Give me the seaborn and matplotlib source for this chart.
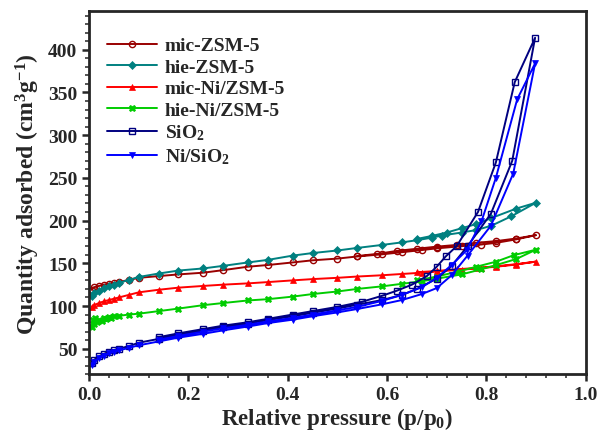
import numpy as np
import pandas as pd
import matplotlib
matplotlib.use("Agg")
import matplotlib.pyplot as plt
from matplotlib.ticker import MultipleLocator
import seaborn as sns

# N2 adsorption / desorption isotherms (p/p0, cm3/g)
mic_zsm5_p_ads = [0.005, 0.01, 0.02, 0.03, 0.04, 0.05, 0.06, 0.08, 0.10, 0.14, 0.18, 0.23, 0.27, 0.32, 0.36,
                  0.41, 0.45, 0.50, 0.54, 0.59, 0.63, 0.67, 0.70, 0.75, 0.79, 0.82, 0.86, 0.90]
mic_zsm5_q_ads = [119, 122, 123.5, 125, 126, 127, 128, 130.5, 133, 135, 137, 139, 142, 146, 148,
                  151, 153.5, 155.5, 158, 160.5, 163, 165.5, 167.5, 170, 172, 174, 178, 183]
mic_zsm5_p_des = [0.86, 0.82, 0.78, 0.74, 0.70, 0.66, 0.62, 0.58, 0.54]
mic_zsm5_q_des = [179, 176, 174, 171.5, 169.5, 167, 164.5, 161, 158.5]

hie_zsm5_p_ads = [0.005, 0.01, 0.02, 0.03, 0.04, 0.05, 0.06, 0.08, 0.10, 0.14, 0.18, 0.23, 0.27, 0.32, 0.36,
                  0.41, 0.45, 0.50, 0.54, 0.59, 0.63, 0.66, 0.69, 0.71, 0.75, 0.78, 0.81, 0.85, 0.90]
hie_zsm5_q_ads = [112, 115, 118, 120.5, 123, 125, 127, 130.5, 134, 138, 141.5, 144, 147, 151, 154,
                  159, 162, 165, 168, 171.5, 174.5, 177, 180, 182.5, 186, 189, 194, 205, 221]
hie_zsm5_p_des = [0.86, 0.81, 0.78, 0.75, 0.72, 0.69, 0.66]
hie_zsm5_q_des = [214, 203, 196, 191, 186, 182, 178.5]

mic_ni_p_ads = [0.005, 0.01, 0.02, 0.03, 0.04, 0.05, 0.06, 0.08, 0.10, 0.14, 0.18, 0.23, 0.27, 0.32, 0.36,
                0.41, 0.45, 0.50, 0.54, 0.59, 0.63, 0.67, 0.70, 0.75, 0.79, 0.82, 0.86, 0.90]
mic_ni_q_ads = [99, 101, 103.5, 105.5, 107, 108.5, 110, 113, 116, 119, 121.5, 123.5, 125, 126.5, 128,
                130, 131.5, 133, 134.5, 136, 137.5, 139, 140.5, 142.5, 144.5, 146, 148.5, 152]
mic_ni_p_des = [0.86, 0.82, 0.78, 0.74, 0.70, 0.66]
mic_ni_q_des = [149, 146.5, 144.5, 143, 141, 139.5]

hie_ni_p_ads = [0.005, 0.008, 0.01, 0.012, 0.015, 0.02, 0.025, 0.03, 0.035, 0.04, 0.045, 0.05, 0.06, 0.08,
                0.10, 0.14, 0.18, 0.23, 0.27, 0.32, 0.36, 0.41, 0.45, 0.50, 0.54, 0.59, 0.63, 0.67, 0.70,
                0.75, 0.79, 0.82, 0.86, 0.90]
hie_ni_q_ads = [76, 84, 79, 86, 81, 84, 82, 86, 85, 87, 86, 88, 88.5, 90,
                91, 94, 97, 101, 103.5, 106.5, 108, 111, 114, 117, 120, 123, 126, 129, 132,
                137, 143, 148, 155, 166]
hie_ni_p_des = [0.855, 0.82, 0.78, 0.74, 0.70, 0.66]
hie_ni_q_des = [159.5, 152, 146, 140, 134.5, 130]

sio2_p_ads = [0.005, 0.01, 0.02, 0.03, 0.04, 0.05, 0.06, 0.08, 0.10, 0.14, 0.18, 0.23, 0.27, 0.32, 0.36,
              0.41, 0.45, 0.50, 0.54, 0.59, 0.63, 0.66, 0.70, 0.73, 0.762, 0.809, 0.852, 0.898]
sio2_q_ads = [33, 37, 41, 44, 46.5, 48.5, 50, 53, 57, 61.5, 66, 71, 75, 79.5, 83.5,
              88, 92, 97, 101.5, 107, 113, 120, 132, 147, 170, 208, 270, 414]
sio2_p_des = [0.857, 0.819, 0.783, 0.74, 0.718, 0.70, 0.68, 0.65, 0.62, 0.59, 0.55, 0.50, 0.45,
              0.41, 0.36, 0.32, 0.27, 0.23, 0.18, 0.14]
sio2_q_des = [362, 268, 210, 170, 158, 146, 135, 125, 118, 112, 105, 99, 94,
              90, 85, 81, 77, 73, 68, 63.5]

ni_sio2_p_ads = [0.005, 0.01, 0.02, 0.03, 0.04, 0.05, 0.06, 0.08, 0.10, 0.14, 0.18, 0.23, 0.27, 0.32, 0.36,
                 0.41, 0.45, 0.50, 0.54, 0.59, 0.63, 0.67, 0.70, 0.73, 0.762, 0.809, 0.854, 0.898]
ni_sio2_q_ads = [31, 35, 39, 42, 44.5, 46.5, 48, 51, 54, 58.5, 63, 67.5, 71.5, 76, 80,
                 84, 88, 92.5, 96.5, 102, 107, 114, 121, 136, 159, 194, 255, 384]
ni_sio2_p_des = [0.862, 0.819, 0.79, 0.76, 0.73, 0.70, 0.67, 0.63, 0.59, 0.54, 0.50, 0.45,
                 0.41, 0.36, 0.32, 0.27, 0.23, 0.18, 0.14]
ni_sio2_q_des = [342, 250, 199, 165, 148, 133, 122, 113, 106, 99, 95, 90,
                 86, 82, 78, 74, 70, 65, 60.5]

series = [
    ("mic-ZSM-5", mic_zsm5_p_ads, mic_zsm5_q_ads, mic_zsm5_p_des, mic_zsm5_q_des, "#990000", "o", True),
    ("hie-ZSM-5", hie_zsm5_p_ads, hie_zsm5_q_ads, hie_zsm5_p_des, hie_zsm5_q_des, "#008080", "D", False),
    ("mic-Ni/ZSM-5", mic_ni_p_ads, mic_ni_q_ads, mic_ni_p_des, mic_ni_q_des, "#FF0000", "^", False),
    ("hie-Ni/ZSM-5", hie_ni_p_ads, hie_ni_q_ads, hie_ni_p_des, hie_ni_q_des, "#00CC00", "X", False),
    (r"SiO$_\mathbf{2}$", sio2_p_ads, sio2_q_ads, sio2_p_des, sio2_q_des, "#000080", "s", True),
    (r"Ni/SiO$_\mathbf{2}$", ni_sio2_p_ads, ni_sio2_q_ads, ni_sio2_p_des, ni_sio2_q_des, "#0000FF", "v", False),
]

sns.set_style("ticks")
plt.rcParams["font.family"] = ["Liberation Serif", "DejaVu Serif"]
plt.rcParams["font.weight"] = "bold"
plt.rcParams["mathtext.fontset"] = "custom"
plt.rcParams["mathtext.rm"] = "Liberation Serif:bold"
plt.rcParams["mathtext.bf"] = "Liberation Serif:bold"
plt.rcParams["mathtext.it"] = "Liberation Serif:italic:bold"

fig = plt.figure(figsize=(6.02, 4.39), dpi=100)
ax = fig.add_axes([0.148, 0.145, 0.825, 0.827])

for label, pa, qa, pd_, qd, color, marker, hollow in series:
    df = pd.DataFrame({"p": list(pa) + list(pd_), "q": list(qa) + list(qd)})
    sns.lineplot(data=df, x="p", y="q", sort=False, estimator=None, ax=ax,
                 color=color, marker=marker, markersize=4.5 if marker != "D" else 4,
                 markerfacecolor="none" if hollow else color,
                 markeredgecolor=color, markeredgewidth=1.0 if hollow else 0.5,
                 linewidth=1.4, label=label)

ax.set_xlim(0.0, 1.0)
ax.set_ylim(20, 445)
ax.xaxis.set_major_locator(MultipleLocator(0.2))
ax.xaxis.set_minor_locator(MultipleLocator(0.04))
ax.yaxis.set_major_locator(MultipleLocator(50))
ax.yaxis.set_minor_locator(MultipleLocator(10))
ax.set_yticks([50, 100, 150, 200, 250, 300, 350, 400])
ax.tick_params(axis="both", which="major", direction="out", length=5, width=1.8,
               labelsize=14, top=False, right=False)
ax.tick_params(axis="both", which="minor", direction="out", length=3, width=1.1,
               top=False, right=False)
for lbl in ax.get_xticklabels() + ax.get_yticklabels():
    lbl.set_fontweight("bold")
for sp in ax.spines.values():
    sp.set_linewidth(2.0)
    sp.set_visible(True)

ax.set_xlabel(r"Relative pressure (p/p$_\mathbf{0}$)", fontsize=16.5, fontweight="bold", labelpad=1)
ax.set_ylabel(r"Quantity adsorbed (cm$^\mathbf{3}$g$^\mathbf{-1}$)", fontsize=17, fontweight="bold", labelpad=4)

leg = ax.legend(loc="upper left", frameon=False, prop={"weight": "bold", "size": 14},
                handlelength=2.6, handletextpad=0.4, labelspacing=0.2,
                bbox_to_anchor=(0.0, 0.978))
for t in leg.get_texts():
    t.set_fontweight("bold")

fig.savefig("out.png", dpi=100)
